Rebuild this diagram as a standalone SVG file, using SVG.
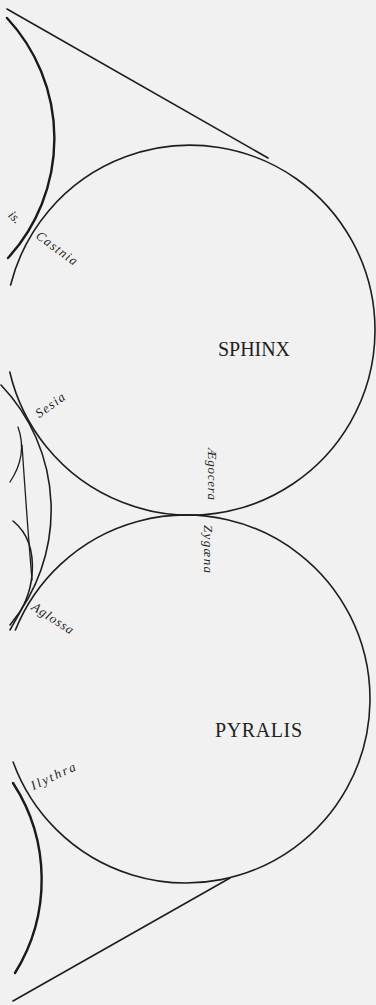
<svg xmlns="http://www.w3.org/2000/svg" width="376" height="1005" viewBox="0 0 376 1005">
<style>
.ln{fill:none;stroke:#1e1e1e;stroke-width:1.6;stroke-linecap:round}
.thk{fill:none;stroke:#1a1a1a;stroke-width:2.4;stroke-linecap:round}
.thin{fill:none;stroke:#1e1e1e;stroke-width:1.3;stroke-linecap:round}
.big{font-family:"Liberation Serif",serif;font-size:20px;fill:#222}
.lbl{font-family:"Liberation Serif",serif;font-style:italic;font-size:13px;fill:#1e1e1e}
</style>
<rect width="376" height="1005" fill="#f1f1f1"/>
<g id="connectors">
<path class="ln" d="M7,9 L268,158"/>
<path class="ln" d="M13,1001 L230,878"/>
</g>
<g id="sphinx">
<path class="ln" d="M10.6,285 A185,185 0 1,1 9.8,372"/>
<text class="big" x="218" y="356" textLength="72" lengthAdjust="spacing">SPHINX</text>
</g>
<g id="pyralis">
<path class="ln" d="M15.4,630 A184,184 0 1,1 13.1,762"/>
<text class="big" x="215" y="737" textLength="87" lengthAdjust="spacing">PYRALIS</text>
</g>
<g id="upper-left">
<path class="thk" d="M7,18 A177,177 0 0,1 8,258"/>
</g>
<g id="middle-left">
<path class="ln" d="M1,385 A181,181 0 0,1 10,625"/>
<path class="thin" d="M18,427 Q28,455 10,482"/>
<path class="thin" d="M22,445 Q27,520 32,580"/>
<path class="ln" d="M13,521 C28,533 34,552 32,575 S20,612 10,630"/>
</g>
<g id="lower-left">
<path class="thk" d="M13,783 A177,177 0 0,1 15,973"/>
</g>
<g id="labels">
<text class="lbl" transform="translate(15,217) rotate(45)" text-anchor="middle" dominant-baseline="central">is.</text>
<text class="lbl" transform="translate(57,248) rotate(36)" text-anchor="middle" dominant-baseline="central" textLength="48" lengthAdjust="spacing">Castnia</text>
<text class="lbl" transform="translate(50,405) rotate(-36)" text-anchor="middle" dominant-baseline="central" textLength="33" lengthAdjust="spacing">Sesia</text>
<text class="lbl" transform="translate(212,474) rotate(90)" text-anchor="middle" dominant-baseline="central" textLength="52" lengthAdjust="spacing">Ægocera</text>
<text class="lbl" transform="translate(208,549) rotate(90)" text-anchor="middle" dominant-baseline="central" textLength="48" lengthAdjust="spacing">Zygæna</text>
<text class="lbl" transform="translate(53,618) rotate(33)" text-anchor="middle" dominant-baseline="central" textLength="47" lengthAdjust="spacing">Aglossa</text>
<text class="lbl" transform="translate(53,776) rotate(-25)" text-anchor="middle" dominant-baseline="central" textLength="48" lengthAdjust="spacing">Ilythra</text>
</g>
</svg>
